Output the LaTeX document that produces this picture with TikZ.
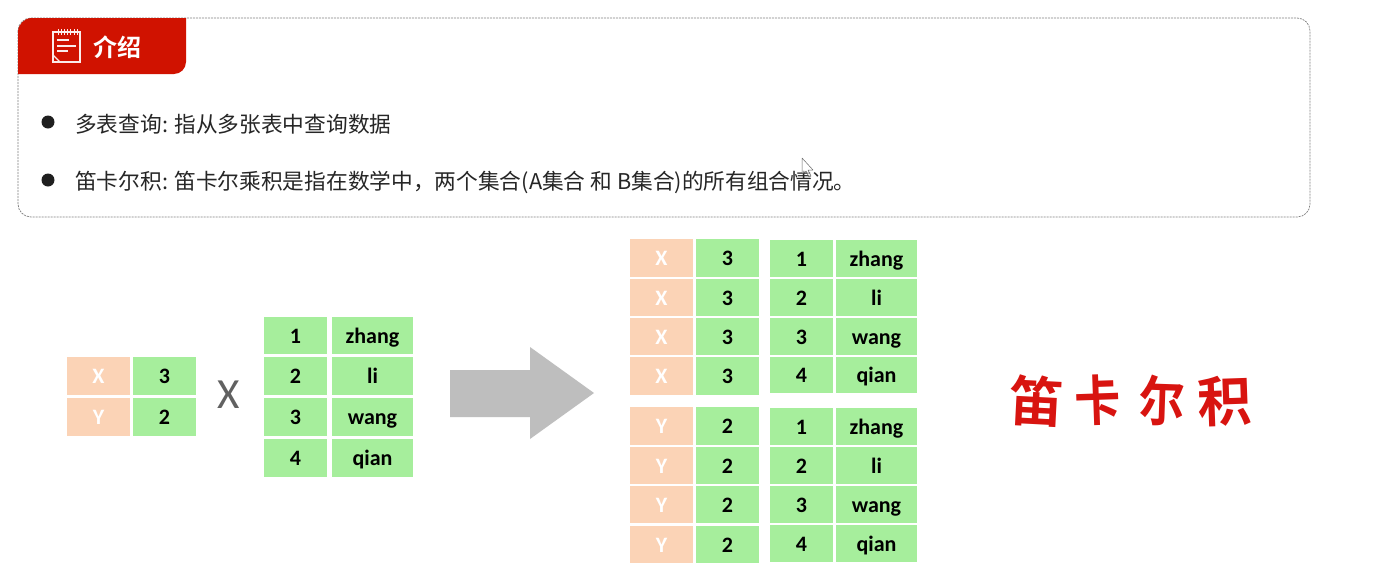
\documentclass[tikz,border=0pt]{standalone}
\usepackage{fontspec}
\setmainfont{Noto Sans CJK SC}
\newfontfamily\cellfont{Carlito}[BoldFont=Carlito Bold]
\newfontfamily\cjkbold{Noto Sans CJK SC Bold}
\definecolor{tabred}{HTML}{D01200}
\definecolor{brushred}{HTML}{D81410}
\definecolor{cellgreen}{HTML}{A6EE9C}
\definecolor{cellorange}{HTML}{FBD3B6}
\definecolor{bodytext}{HTML}{262626}
\definecolor{arrowgray}{HTML}{BEBEBE}
\tikzset{
  x=1pt,y=-1pt,
  greencell/.style={fill=cellgreen,text=black,font=\cellfont\bfseries\fontsize{22}{22}\selectfont},
  orangecell/.style={fill=cellorange,text=white,font=\cellfont\bfseries\fontsize{22}{22}\selectfont},
  celltext/.style={inner sep=0pt,anchor=center,text height=13.5pt,text depth=0pt,yshift=-1pt},
  bodyline/.style={anchor=west,inner sep=0pt,text=bodytext,font=\fontsize{21.7}{24}\selectfont},
  dot/.style={circle,fill=black!88,minimum size=13pt,inner sep=0pt},
  iconline/.style={draw=white!92!tabred,line width=1.2pt},
  brushchar/.style={inner sep=0pt,text=brushred,font=\cjkbold\fontsize{54}{54}\selectfont}
}
% one table cell: style, name, x0, y0, x1, y1, text
\newcommand{\cell}[7]{%
  \fill[#1] (#3,#4) rectangle (#5,#6);
  \node[#1,fill=none,celltext] (#2) at ({(#3+#5)/2},{(#4+#6)/2}) {#7};}
\begin{document}
\begin{tikzpicture}
\useasboundingbox (0,0) rectangle (1384,584);
\fill[white] (0,0) rectangle (1384,584);

% intro panel
\draw[black!50,dash pattern=on 2pt off 1pt,line width=0.7pt,rounded corners=13pt] (18,18) rectangle (1310,217);
\fill[tabred] (18,32) .. controls (18,24.3) and (24.3,18) .. (32,18) -- (186,18) -- (186,62)
  .. controls (186,68.6) and (180.6,74) .. (174,74) -- (18,74) -- cycle;

% notebook icon
\draw[iconline] (53,32) -- (80,32) -- (80,62) -- (53,62) -- cycle;
\foreach \k in {0,...,6} \draw[iconline,line width=0.9pt] ({58+\k*3.2},29) -- ({58+\k*3.2},35);
\draw[iconline] (57,40) -- (69,40) (57,46) -- (76,46) (57,51) -- (68,51);
\draw[iconline] (53,55) -- (60,62);

\node[anchor=west,inner sep=0pt,text=white,font=\cjkbold\fontsize{24}{26}\selectfont] (tabtitle) at (93,47) {介绍};

\node[dot] (b1) at (48,122) {};
\node[dot] (b2) at (48,180) {};
\node[bodyline] (line1) at (75,124) {多表查询: 指从多张表中查询数据};
\node[bodyline] (line2) at (75,182) {笛卡尔积: 笛卡尔乘积是指在数学中，两个集合(A集合 和 B集合)的所有组合情况。};

% pointer
\draw[black!60,fill=white,fill opacity=0.6,line width=0.5pt,line join=round] (802,158) -- (802,174) -- (806,171) -- (809,177) -- (811,176) -- (808,170) -- (813,170) -- cycle;

% set A
\cell{orangecell}{ax}{67}{357}{130}{395}{X}
\cell{orangecell}{ay}{67}{398}{130}{436}{Y}
\cell{greencell}{a3}{133}{357}{196}{395}{3}
\cell{greencell}{a2}{133}{398}{196}{436}{2}

\node[inner sep=0pt,text=black!62,font=\cellfont\fontsize{43}{43}\selectfont] (times) at (228.5,395) {X};

% set B
\cell{greencell}{b1n}{264}{317}{327}{354}{1}
\cell{greencell}{b2n}{264}{357}{327}{395}{2}
\cell{greencell}{b3n}{264}{398}{327}{436}{3}
\cell{greencell}{b4n}{264}{439}{327}{477}{4}
\cell{greencell}{b1s}{332}{317}{413}{354}{zhang}
\cell{greencell}{b2s}{332}{357}{413}{395}{li}
\cell{greencell}{b3s}{332}{398}{413}{436}{wang}
\cell{greencell}{b4s}{332}{439}{413}{477}{qian}

% arrow
\fill[arrowgray] (450,370) -- (530,370) -- (530,347) -- (594,393) -- (530,439) -- (530,417) -- (450,417) -- cycle;

% product, upper block
\cell{orangecell}{p1a}{630}{239}{693}{277}{X}
\cell{orangecell}{p2a}{630}{279}{693}{316}{X}
\cell{orangecell}{p3a}{630}{318}{693}{355}{X}
\cell{orangecell}{p4a}{630}{357}{693}{395}{X}
\cell{greencell}{p1b}{696}{239}{759}{277}{3}
\cell{greencell}{p2b}{696}{279}{759}{316}{3}
\cell{greencell}{p3b}{696}{318}{759}{355}{3}
\cell{greencell}{p4b}{696}{357}{759}{395}{3}
\cell{greencell}{p1c}{770}{240}{833}{277}{1}
\cell{greencell}{p2c}{770}{279}{833}{316}{2}
\cell{greencell}{p3c}{770}{318}{833}{355}{3}
\cell{greencell}{p4c}{770}{357}{833}{393}{4}
\cell{greencell}{p1d}{836}{240}{917}{277}{zhang}
\cell{greencell}{p2d}{836}{279}{917}{316}{li}
\cell{greencell}{p3d}{836}{318}{917}{355}{wang}
\cell{greencell}{p4d}{836}{357}{917}{393}{qian}

% product, lower block
\cell{orangecell}{q1a}{630}{407}{693}{445}{Y}
\cell{orangecell}{q2a}{630}{447}{693}{484}{Y}
\cell{orangecell}{q3a}{630}{486}{693}{523}{Y}
\cell{orangecell}{q4a}{630}{526}{693}{563}{Y}
\cell{greencell}{q1b}{696}{407}{759}{445}{2}
\cell{greencell}{q2b}{696}{447}{759}{484}{2}
\cell{greencell}{q3b}{696}{486}{759}{523}{2}
\cell{greencell}{q4b}{696}{526}{759}{563}{2}
\cell{greencell}{q1c}{770}{408}{833}{445}{1}
\cell{greencell}{q2c}{770}{447}{833}{484}{2}
\cell{greencell}{q3c}{770}{486}{833}{523}{3}
\cell{greencell}{q4c}{770}{525}{833}{562}{4}
\cell{greencell}{q1d}{836}{408}{917}{445}{zhang}
\cell{greencell}{q2d}{836}{447}{917}{484}{li}
\cell{greencell}{q3d}{836}{486}{917}{523}{wang}
\cell{greencell}{q4d}{836}{525}{917}{562}{qian}

% caption, set loosely character by character
\node[brushchar,rotate=-3] (c1) at (1037,401) {笛};
\node[brushchar,rotate=2,xscale=0.85] (c2) at (1098,400) {卡};
\node[brushchar,rotate=-2,xscale=0.85] (c3) at (1162,401) {尔};
\node[brushchar,rotate=2] (c4) at (1225,401) {积};
\end{tikzpicture}
\end{document}
